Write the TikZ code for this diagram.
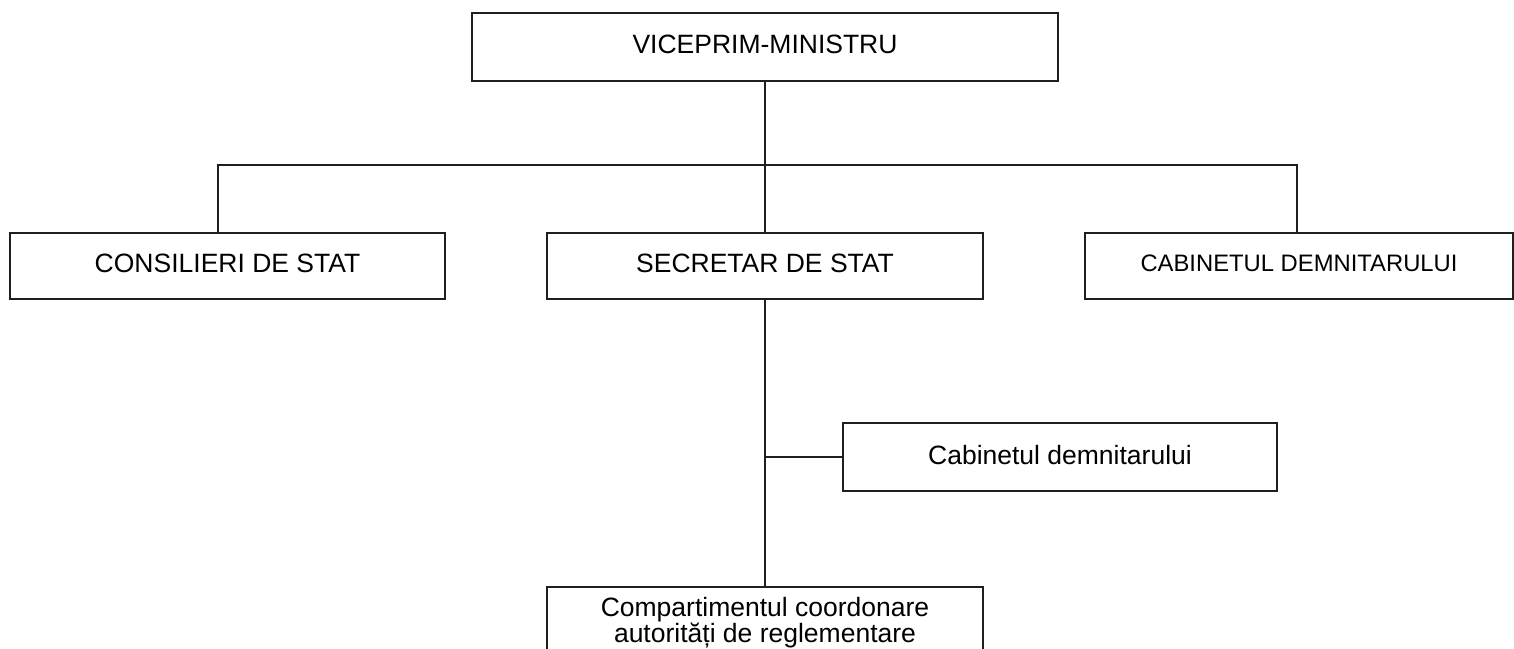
\documentclass[tikz,border=0pt]{standalone}
\usepackage{fontspec}
\setmainfont{Liberation Sans}
\usepackage{tikz}
\usetikzlibrary{calc}

\begin{document}
\begin{tikzpicture}[x=0.5pt,y=-0.5pt,
  box/.style={draw=black!88,line width=.85pt,fill=white,inner sep=0pt,
    minimum height=33pt,text depth=0.25em,font=\fontsize{13.25}{14}\selectfont},
  link/.style={draw=black!88,line width=.85pt}]

\useasboundingbox (0,0) rectangle (1514,648);

\node[box,minimum width=293pt,minimum height=34pt] (vpm) at (765,47) {VICEPRIM-MINISTRU};

\node[box,minimum width=217.5pt] (cons) at (227.5,266) {CONSILIERI DE STAT};
\node[box,minimum width=218pt] (sec) at (765,266) {SECRETAR DE STAT};
\node[box,minimum width=214pt,font=\fontsize{11.9}{14}\selectfont] (cab) at (1299,266) {CABINETUL DEMNITARULUI};

\node[box,minimum width=217pt,minimum height=34pt] (cabd) at (1060,457) {Cabinetul demnitarului};

\node[box,minimum width=218pt,minimum height=35pt,text depth=0.2em,align=center,anchor=north,
  font=\fontsize{13.25}{13.4}\selectfont] (comp) at (765,586)
  {Compartimentul coordonare\\autorități de reglementare};

\coordinate (busL) at (218,165);
\coordinate (busR) at (1297,165);

\draw[link] (vpm.south) -- (sec.north);
\draw[link] (busL |- cons.north) -- (busL) -- (busR) -- (busR |- cab.north);
\draw[link] (sec.south) -- (comp.north);
\draw[link] (sec.south |- cabd.west) -- (cabd.west);

\end{tikzpicture}
\end{document}
